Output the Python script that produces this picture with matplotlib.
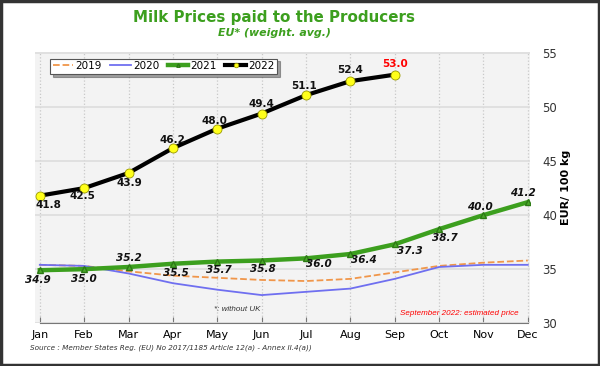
import numpy as np
import matplotlib
matplotlib.use("Agg")
import matplotlib.pyplot as plt
from matplotlib.patches import Rectangle

# Data (EUR / 100 kg)
months = ['Jan', 'Feb', 'Mar', 'Apr', 'May', 'Jun', 'Jul', 'Aug', 'Sep', 'Oct', 'Nov', 'Dec']
p2019 = [35.4, 35.3, 34.8, 34.4, 34.2, 34.0, 33.9, 34.1, 34.7, 35.3, 35.6, 35.8]
p2020 = [35.4, 35.3, 34.6, 33.7, 33.1, 32.6, 32.9, 33.2, 34.1, 35.2, 35.4, 35.4]
p2021 = [34.9, 35.0, 35.2, 35.5, 35.7, 35.8, 36.0, 36.4, 37.3, 38.7, 40.0, 41.2]
p2022 = [41.8, 42.5, 43.9, 46.2, 48.0, 49.4, 51.1, 52.4, 53.0]

# label offsets (pixels) for each data label
off2021 = [(-2, -10), (0, -10), (0, 9), (3, -9), (2, -8), (1, -8),
           (13, -6), (14, -6), (15, -7), (6, -9), (-4, 8), (-5, 9)]
off2022 = [(9, -9), (-2, -8), (1, -10), (0, 8), (-3, 8), (0, 10),
           (-2, 9), (0, 11), (0, 11)]

green = '#3c9f1e'
x = np.arange(len(months))

fig = plt.figure(figsize=(6, 3.66), dpi=100)
fig.patch.set_facecolor('white')
fig.patches.append(Rectangle((0.002, 0.003), 0.996, 0.994, transform=fig.transFigure,
                             fill=False, edgecolor='#333333', linewidth=2.5))

ax = fig.add_axes([0.058, 0.117, 0.825, 0.741])
ax.set_facecolor('#f3f3f3')

ax.plot(x, p2019, color='#f0964a', linestyle='--', linewidth=1.3, label='2019', zorder=3)
ax.plot(x, p2020, color='#6f6ff0', linewidth=1.3, label='2020', zorder=3)
ax.plot(x, p2021, color=green, linewidth=3.2, marker='^', markersize=5,
        markerfacecolor='#4aa82a', markeredgecolor='#2c7a14', label='2021', zorder=4)
ax.plot(x[:len(p2022)], p2022, color='black', linewidth=3, marker='o', markersize=6.5,
        markerfacecolor='#ffff1a', markeredgecolor='#999900', markeredgewidth=0.6,
        label='2022', zorder=5)

for i, v in enumerate(p2021):
    ax.annotate(f'{v:.1f}', (x[i], v), xytext=off2021[i], textcoords='offset pixels',
                ha='center', va='center', fontsize=7.5, fontweight='bold',
                fontstyle='italic', color='#111111', zorder=6)
for i, v in enumerate(p2022):
    col = 'red' if i == len(p2022) - 1 else '#111111'
    ax.annotate(f'{v:.1f}', (x[i], v), xytext=off2022[i], textcoords='offset pixels',
                ha='center', va='center', fontsize=7.5, fontweight='bold',
                color=col, zorder=6)

ax.set_xlim(-0.113, 11.045)
ax.set_ylim(30, 55.1)
ax.set_xticks(x)
ax.set_xticklabels(months, fontsize=8)
ax.set_yticks([30, 35, 40, 45, 50, 55])
ax.yaxis.tick_right()
ax.yaxis.set_label_position('right')
ax.tick_params(axis='y', length=0, labelsize=8.5, pad=9, labelcolor='#333333')
ax.tick_params(axis='x', direction='in', length=4, color='#777777', pad=5)
ax.set_ylabel('EUR/ 100 kg', fontsize=8, fontweight='bold', labelpad=3)

for s in ['top', 'left', 'right']:
    ax.spines[s].set_visible(False)
ax.spines['bottom'].set_color('#777777')
ax.spines['bottom'].set_bounds(0, 11)

ax.grid(axis='x', color='#c8c8c8', linestyle=':', linewidth=0.9)
ax.grid(axis='y', color='#dddddd', linestyle='-', linewidth=1.2)
ax.set_axisbelow(True)

leg = ax.legend(loc='upper left', ncol=4, fontsize=7.5, frameon=True, fancybox=False,
                shadow=True, handlelength=2.0, handletextpad=0.2, columnspacing=0.8,
                borderpad=0.25, bbox_to_anchor=(0.02, 0.995), markerscale=0.5)
leg.get_frame().set_edgecolor('#555555')
leg.get_frame().set_facecolor('white')
leg.get_frame().set_linewidth(0.8)

ax.text(0.41, 0.052, '*: without UK', transform=ax.transAxes, fontsize=5.8,
        fontfamily='Liberation Sans', fontstyle='italic', color='#333333',
        ha='center', va='center')
ax.text(0.857, 0.037, 'September 2022: estimated price', transform=ax.transAxes,
        fontsize=5.8, fontfamily='Liberation Sans', fontstyle='italic', color='red',
        ha='center', va='center')

fig.text(0.457, 0.951, 'Milk Prices paid to the Producers', ha='center', va='center',
         fontsize=10.9, fontweight='bold', color=green)
fig.text(0.457, 0.91, 'EU* (weight. avg.)', ha='center', va='center',
         fontsize=7.9, fontweight='bold', fontstyle='italic', color=green)
fig.text(0.05, 0.045, 'Source : Member States Reg. (EU) No 2017/1185 Article 12(a) - Annex II.4(a))',
         fontsize=5.2, fontstyle='italic', color='#333333')

fig.savefig('out.png', dpi=100)
